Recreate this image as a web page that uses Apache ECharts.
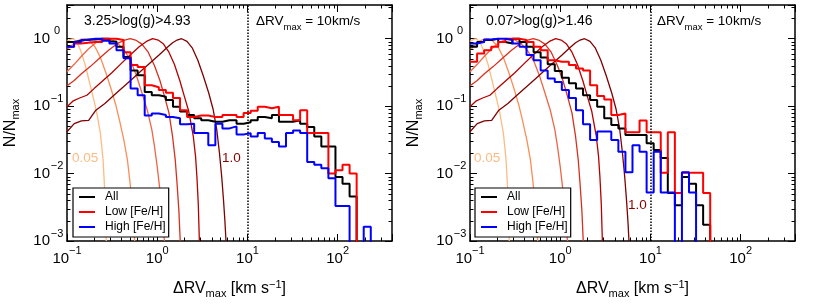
<!DOCTYPE html>
<html><head><meta charset="utf-8">
<script src="https://cdn.jsdelivr.net/npm/echarts@6/dist/echarts.min.js"></script>
<style>html,body{margin:0;padding:0;background:#fff}#c{width:814px;height:305px}</style>
</head><body><div id="c"></div>
<script>
// ---- data ----
const binEdges = [0.1,0.1198,0.1434,0.1718,0.2057,0.2464,0.2951,0.3534,0.4231,0.5068,0.6067,0.7264,0.8702,1.0421,1.248,1.4945,1.7899,2.1435,2.567,3.0742,3.6813,4.4089,5.2795,6.3226,7.5718,9.0678,10.859,13.005,15.573,18.651,22.336,26.749,32.033,38.362,45.941,55.018,65.886,78.904,94.494,113.16,135.52,162.29,194.35,232.75,278.74,333.81,399.76];

const leftAll  = [0.891,0.933,0.977,0.977,1,1,0.912,0.759,0.537,0.339,0.288,0.162,0.145,0.138,0.123,0.0977,0.0832,0.0741,0.0661,0.0617,0.0589,0.0589,0.0617,0.0617,0.055,0.0575,0.0617,0.0692,0.0661,0.0741,0.0589,0.0589,0.0617,0.055,0.049,0.0355,0.0251,0.0251,0.00891,0.00708,0.00457,0,0,0,0,0];
const leftLow  = [0.759,0.851,0.871,0.891,0.891,1,1,0.955,0.631,0.407,0.38,0.204,0.191,0.174,0.158,0.132,0.0871,0.0692,0.0724,0.0724,0.0692,0.0692,0.0741,0.0741,0.0692,0.0794,0.0851,0.0977,0.0933,0.0977,0.0741,0.0741,0.0617,0.0871,0.0398,0.0398,0.0398,0.01,0.0112,0.0135,0.01,0,0,0,0,0];
const leftHigh = [0.759,0.891,0.955,1,1,0.933,0.851,0.676,0.513,0.182,0.145,0.0724,0.0776,0.0741,0.0692,0.0661,0.0537,0.055,0.0398,0.0398,0.0263,0.055,0.0468,0.0501,0.038,0.0398,0.0355,0.0398,0.0331,0.0295,0.0251,0.0398,0.0437,0.0398,0.0148,0.0135,0.012,0.00851,0.00331,0.00331,0,0,0.00162,0,0,0];

const rightAll  = [0.759,0.891,0.955,1,0.891,0.851,1,0.891,0.759,0.631,0.525,0.417,0.331,0.263,0.219,0.182,0.145,0.123,0.0977,0.0661,0.0525,0.0468,0.0372,0.0372,0.0372,0.0282,0.0224,0.017,0.00513,0.00339,0.00891,0.00708,0.00339,0.00174,0,0,0,0,0,0,0,0,0,0,0,0];
const rightLow  = [0.457,0.603,0.676,0.759,0.891,1,1,0.955,0.891,0.759,0.676,0.479,0.457,0.457,0.407,0.363,0.339,0.204,0.141,0.126,0.0741,0.0776,0.041,0.041,0.0615,0.041,0.041,0.0103,0.041,0.00513,0.0103,0.0103,0.0103,0.00513,0,0,0,0,0,0,0,0,0,0,0,0];
const rightHigh = [0.851,0.891,0.977,1,1,0.955,0.851,0.759,0.575,0.479,0.339,0.257,0.229,0.174,0.132,0.0871,0.0537,0.0316,0.042,0.042,0.0316,0.021,0.0105,0.0263,0.021,0.00525,0.021,0.00525,0.00525,0,0.0105,0.00525,0,0,0,0,0,0,0,0,0,0,0,0,0,0];

const model1X = [0.1,0.1096,0.1175,0.1288,0.1413,0.1585,0.1778,0.1995,0.2138,0.2344,0.2512,0.263,0.2723];
const model1Y = [0.912,0.977,1,0.891,0.676,0.417,0.224,0.12,0.0794,0.0398,0.0158,0.00501,0.001];
const model2X = [0.1,0.1122,0.1259,0.1413,0.1585,0.1778,0.2042,0.2344,0.2692,0.309,0.3467,0.3802,0.4266,0.4677,0.5012,0.537,0.5623];
const model2Y = [0.676,0.794,0.912,0.977,1,0.933,0.759,0.525,0.316,0.178,0.105,0.0631,0.0316,0.0158,0.00708,0.00282,0.001];
const model3X = [0.1,0.1202,0.1445,0.1738,0.2089,0.2399,0.2754,0.3162,0.3715,0.4365,0.5129,0.5888,0.6761,0.7762,0.871,0.9333,1.0,1.0715,1.1482,1.2023];
const model3Y = [0.324,0.417,0.55,0.708,0.871,0.955,1,0.955,0.832,0.661,0.457,0.282,0.158,0.0871,0.0447,0.0251,0.0126,0.00562,0.00224,0.001];
const model4X = [0.1,0.1202,0.1445,0.182,0.2291,0.2884,0.3631,0.4365,0.5012,0.5754,0.6761,0.7943,0.9333,1.0715,1.2023,1.349,1.4791,1.5849,1.6596,1.7378,1.7989];
const model4Y = [0.2,0.24,0.302,0.389,0.513,0.676,0.851,0.955,1,0.955,0.832,0.631,0.398,0.24,0.141,0.0794,0.0355,0.0158,0.00708,0.00282,0.001];
const model5X = [0.1,0.1175,0.138,0.166,0.1995,0.2512,0.3162,0.3981,0.5012,0.631,0.7586,0.8913,1.0233,1.1749,1.349,1.5488,1.7783,1.9953,2.2387,2.5119,2.6607,2.7542,2.851,2.9309];
const model5Y = [0.0977,0.12,0.132,0.145,0.182,0.24,0.316,0.427,0.575,0.759,0.912,1,0.955,0.832,0.631,0.417,0.24,0.141,0.0832,0.0355,0.0178,0.00891,0.00355,0.001];
const model6X = [0.1,0.1202,0.1445,0.1738,0.2089,0.263,0.3311,0.4169,0.5248,0.6607,0.8318,1.0471,1.2589,1.4791,1.6596,1.8621,2.138,2.4547,2.8184,3.2359,3.7154,4.1687,4.5709,4.8978,5.188,5.4325,5.6234,5.781];
const model6Y = [0.0417,0.055,0.0603,0.0617,0.0871,0.1096,0.145,0.191,0.251,0.331,0.437,0.575,0.724,0.871,0.955,1,0.912,0.724,0.479,0.282,0.158,0.0891,0.0447,0.02,0.00891,0.00398,0.002,0.001];

const seriesNames = ['All','Low [Fe/H]','High [Fe/H]'];
const panelTitles = ['3.25>log(g)>4.93','0.07>log(g)>1.46'];
const curveLabels = ['0.05','1.0'];
const dividerValue = 10;

// ---- styles ----
const FONT = 'Liberation Sans';
const modelColors = ['#fdbb84','#fc8d59','#ef6548','#d7301f','#b30000','#7f0000'];
const histColors = ['#000000','#ff0000','#0000ff'];
const FLOOR = 1e-6;

function stepData(vals){
  const d = [];
  for (let k = 0; k < vals.length; k++) d.push([binEdges[k], vals[k] > 0 ? vals[k] : FLOOR]);
  const last = vals[vals.length-1];
  d.push([binEdges[vals.length], last > 0 ? last : FLOOR]);
  return d;
}
function pairs(xs, ys){ return xs.map((x,i)=>[x, ys[i]]); }

function expOf(v){ const l = Math.log10(v); const r = Math.round(l); return Math.abs(l-r) < 0.01 ? r : null; }
function xFmt(v){ const e = expOf(v); if (e === null) return ''; return '{b|10}{s|' + (e < 0 ? '\u2212' + (-e) : e) + '}'; }
const xRich = {
  b:{fontSize:15,fontFamily:FONT,color:'#000',lineHeight:28,verticalAlign:'middle'},
  s:{fontSize:11,fontFamily:FONT,color:'#000',lineHeight:9,verticalAlign:'top'}
};
const yRich = {
  b:{fontSize:15,fontFamily:FONT,color:'#000',lineHeight:26,verticalAlign:'middle'},
  s:{fontSize:11,fontFamily:FONT,color:'#000',lineHeight:9,verticalAlign:'top',width:14,align:'left'}
};
const nameRich = {
  a:{fontSize:16,fontFamily:FONT,color:'#000',lineHeight:20,verticalAlign:'middle'},
  d:{fontSize:11,fontFamily:FONT,color:'#000',lineHeight:10,verticalAlign:'bottom'},
  u:{fontSize:11,fontFamily:FONT,color:'#000',lineHeight:9,verticalAlign:'top'}
};

function mkX(g, pos, main){
  return {
    type:'log', logBase:10, gridIndex:g, position:pos, min:0.1, max:400,
    axisLine:{show:true,onZero:false,lineStyle:{color:'#000',width:1.5}},
    axisTick:{show:true,inside:true,length:7,lineStyle:{color:'#000',width:1}},
    axisLabel: main ? {show:true,formatter:xFmt,rich:xRich,margin:4} : {show:false},
    splitLine:{show:false}, minorTick:{show:false},
    name: main ? '{a|\u0394RV}{d|max}{a| [km s}{u|\u22121}{a|]}' : '',
    nameLocation:'middle', nameGap:38, nameTextStyle:{rich:nameRich}
  };
}
function mkY(g, pos, main){
  return {
    type:'log', logBase:10, gridIndex:g, position:pos, min:0.001, max:3.1623,
    axisLine:{show:true,onZero:false,lineStyle:{color:'#000',width:1.5}},
    axisTick:{show:true,inside:true,length:7,lineStyle:{color:'#000',width:1}},
    axisLabel: main ? {show:true,formatter:xFmt,rich:yRich,margin:3} : {show:false},
    splitLine:{show:false}, minorTick:{show:false},
    name: main ? '{a|N/N}{d|max}' : '',
    nameLocation:'middle', nameGap:46, nameRotate:90, nameTextStyle:{rich:nameRich}
  };
}

const minorX = [], minorY = [];
[0.1,1,10,100].forEach(d=>{ for (let m=2;m<=9;m++){ const v=d*m; if (v<400) minorX.push(v);} });
[0.001,0.01,0.1,1].forEach(d=>{ for (let m=2;m<=9;m++){ const v=d*m; if (v<3.16) minorY.push(v);} });

function minorTicks(xi, yi){
  return {
    type:'custom', xAxisIndex:xi, yAxisIndex:yi, silent:true, z:10, data:[[1,1]],
    renderItem:function(params, api){
      const cs = params.coordSys, ch = [], L = 3.5;
      const st = {stroke:'#000', lineWidth:1};
      minorX.forEach(v=>{
        const p = Math.round(api.coord([v,1])[0]) + 0.5;
        ch.push({type:'line',shape:{x1:p,y1:cs.y+cs.height,x2:p,y2:cs.y+cs.height-L},style:st});
        ch.push({type:'line',shape:{x1:p,y1:cs.y,x2:p,y2:cs.y+L},style:st});
      });
      minorY.forEach(v=>{
        const p = Math.round(api.coord([1,v])[1]) + 0.5;
        ch.push({type:'line',shape:{x1:cs.x,y1:p,x2:cs.x+L,y2:p},style:st});
        ch.push({type:'line',shape:{x1:cs.x+cs.width,y1:p,x2:cs.x+cs.width-L,y2:p},style:st});
      });
      return {type:'group', children:ch};
    }
  };
}

const modelsX = [model1X,model2X,model3X,model4X,model5X,model6X];
const modelsY = [model1Y,model2Y,model3Y,model4Y,model5Y,model6Y];

function panelSeries(xi, yi, all, low, high){
  const s = [];
  modelsX.forEach((xs,i)=>{
    const o = {type:'line', xAxisIndex:xi, yAxisIndex:yi, name:'model'+(i+1), data:pairs(xs, modelsY[i]),
      symbol:'none', smooth:false, clip:true, silent:true, z:2,
      lineStyle:{color:modelColors[i], width:1.3}, itemStyle:{color:modelColors[i]}};
    if (i === 0) {
      o.markLine = {silent:true, symbol:['none','none'], label:{show:false},
        lineStyle:{color:'#000', type:'dotted', width:1.5}, data:[{xAxis:dividerValue}]};
    }
    s.push(o);
  });
  [all, low, high].forEach((vals,i)=>{
    s.push({type:'line', xAxisIndex:xi, yAxisIndex:yi, name:seriesNames[i], data:stepData(vals),
      step:'end', symbol:'none', clip:true, silent:true, z:3+i,
      lineStyle:{color:histColors[i], width:2}, itemStyle:{color:histColors[i]}});
  });
  s.push(minorTicks(xi, yi));
  return s;
}

function legendAt(left){
  return {data:seriesNames, orient:'vertical', left:left, top:188, selectedMode:false,
    icon:'rect', itemWidth:16, itemHeight:2, itemGap:2, padding:[2.5,3,3.5,6],
    borderColor:'#000', borderWidth:1.2, borderRadius:0, backgroundColor:'#fff',
    textStyle:{fontFamily:FONT, fontSize:12, color:'#000', lineHeight:13, padding:[0,0,0,5]}};
}

const subRich = {
  a:{fontSize:13.5,fontFamily:FONT,fill:'#000',lineHeight:18,verticalAlign:'top'},
  s:{fontSize:9.5,fontFamily:FONT,fill:'#000',lineHeight:10,verticalAlign:'bottom'}
};
function txt(x,y,t,size,color){
  return {type:'text', x:x, y:y, z:100, style:{text:t, fill:color, font:size+'px "'+FONT+'"', verticalAlign:'middle'}};
}
const graphics = [
  txt(84,21,panelTitles[0],14,'#000'),
  txt(486,21,panelTitles[1],14,'#000'),
  {type:'text', x:256, y:23, z:100, style:{text:'{a|\u0394RV}{s|max}{a| = 10km/s}', rich:subRich, verticalAlign:'middle'}},
  {type:'text', x:657, y:23, z:100, style:{text:'{a|\u0394RV}{s|max}{a| = 10km/s}', rich:subRich, verticalAlign:'middle'}},
  txt(72,158,curveLabels[0],13.5,'#fdbb84'),
  txt(474,158,curveLabels[0],13.5,'#fdbb84'),
  txt(222,158,curveLabels[1],13.5,'#8b0000'),
  txt(628,205,curveLabels[1],13.5,'#8b0000')
];

const chart = echarts.init(document.getElementById('c'), null, {renderer:'canvas'});
chart.setOption({
  animation:false,
  backgroundColor:'#fff',
  textStyle:{fontFamily:FONT},
  grid:[{left:67,top:5,width:325,height:236},{left:470,top:5,width:325,height:236}],
  xAxis:[mkX(0,'bottom',true), mkX(0,'top',false), mkX(1,'bottom',true), mkX(1,'top',false)],
  yAxis:[mkY(0,'left',true), mkY(0,'right',false), mkY(1,'left',true), mkY(1,'right',false)],
  legend:[legendAt(73), legendAt(475)],
  series: panelSeries(0,0,leftAll,leftLow,leftHigh).concat(panelSeries(2,2,rightAll,rightLow,rightHigh)),
  graphic: graphics
});
</script></body></html>
